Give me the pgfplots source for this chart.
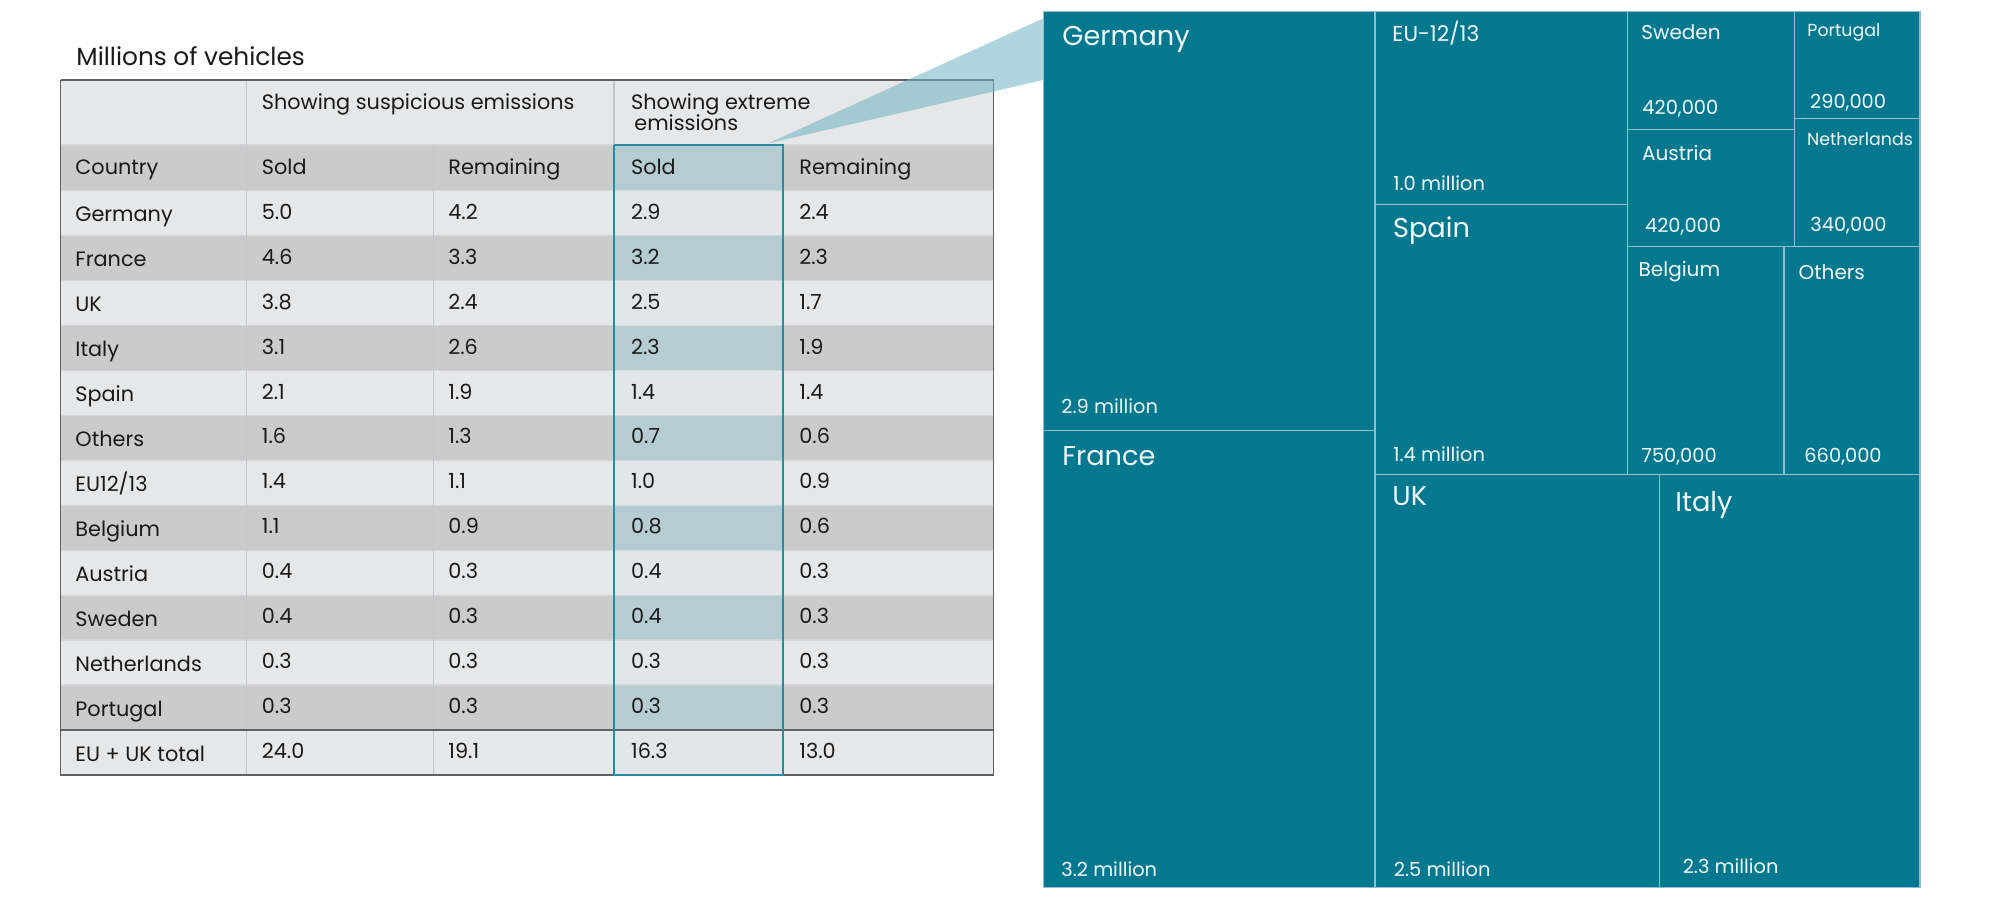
\documentclass[border=0pt]{standalone}
\usepackage{pgfplots}
\pgfplotsset{compat=1.18}
\usepackage{pgfplotstable}
\usepackage{fontspec}
\setmainfont{Poppins}
\definecolor{tealfill}{HTML}{03788F}
\definecolor{tealline}{HTML}{8EBFCB}
\definecolor{tealtext}{HTML}{F2F7F8}
\definecolor{rowlight}{HTML}{E6E7E8}
\definecolor{rowdark}{HTML}{CBCBCB}
\definecolor{hidark}{HTML}{B5CCD3}
\definecolor{hilight}{HTML}{E2E6E8}
\definecolor{gridc}{HTML}{D3D5D8}
\definecolor{colc}{HTML}{C4C8CC}
\definecolor{outer}{HTML}{5F6366}
\definecolor{hiborder}{HTML}{2A8BA0}
\definecolor{callout}{HTML}{6DB3C3}
\definecolor{txt}{HTML}{1A1A1A}
\newcommand{\tabfont}{\fontsize{10.4}{12.5}\selectfont}
\newcommand{\bigf}{\fontsize{13.6}{16}\selectfont}
\newcommand{\medf}{\fontsize{10}{12}\selectfont}
\newcommand{\euf}{\fontsize{10.8}{13}\selectfont}
\newcommand{\smallf}{\fontsize{8.7}{10.5}\selectfont}
\newcommand{\valf}{\fontsize{9.7}{11.5}\selectfont}
% rectangle helpers (axis units)
\newcommand{\tcell}[5]{\addplot[fill=#1, draw=none] coordinates {(#2,#3) (#4,#3) (#4,#5) (#2,#5) (#2,#3)};}
\newcommand{\hln}[5]{\addplot[draw=#1, line width=#2] coordinates {(#3,#5) (#4,#5)};}
\newcommand{\vln}[5]{\addplot[draw=#1, line width=#2] coordinates {(#3,#4) (#3,#5)};}
% table values (millions of vehicles); top = row top in picture units
\pgfplotstableread[col sep=comma]{
top,name,ss,sr,es,er
190.7,Germany,5.0,4.2,2.9,2.4
235.6,France,4.6,3.3,3.2,2.3
280.6,UK,3.8,2.4,2.5,1.7
325.5,Italy,3.1,2.6,2.3,1.9
370.5,Spain,2.1,1.9,1.4,1.4
415.4,Others,1.6,1.3,0.7,0.6
460.3,EU12/13,1.4,1.1,1.0,0.9
505.3,Belgium,1.1,0.9,0.8,0.6
550.2,Austria,0.4,0.3,0.4,0.3
595.2,Sweden,0.4,0.3,0.4,0.3
640.1,Netherlands,0.3,0.3,0.3,0.3
685.1,Portugal,0.3,0.3,0.3,0.3
730.0,EU + UK total,24.0,19.1,16.3,13.0
}\tabledata
% treemap rectangles: x0,y0,x1,y1 (extreme emissions, sold)
\pgfplotstableread[col sep=comma]{
name,x0,y0,x1,y1
Germany,1043.3,11.7,1375,430.7
France,1043.3,430.7,1375,887.7
EU-12/13,1375,11.7,1627.3,204.3
Spain,1375,204.3,1627.3,474.3
Sweden,1627.3,11.7,1794.3,129.3
Austria,1627.3,129.3,1794.3,246.7
Portugal,1794.3,11.7,1920,118.3
Netherlands,1794.3,118.3,1920,246.7
Belgium,1627.3,246.7,1784,474.3
Others,1784,246.7,1920,474.3
UK,1375,474.3,1659.4,887.7
Italy,1659.4,474.3,1920,887.7
}\treedata
\newcommand{\tree}[4]{\addplot[fill=tealfill, draw=tealline, line width=0.6pt] coordinates {(#1,#2) (#3,#2) (#3,#4) (#1,#4) (#1,#2)};}
\begin{document}
\begin{tikzpicture}
\begin{axis}[
  width=1000pt, height=450pt, scale only axis,
  xmin=0, xmax=2000, ymin=0, ymax=900, y dir=reverse,
  hide axis, clip=false,
  every axis plot/.append style={forget plot},
  tabtext/.style={draw=none, mark=none, nodes near coords, point meta=explicit symbolic,
    every node near coord/.append style={anchor=base west, inner sep=0pt, font=\tabfont, text=txt}},
]
% ---- table backgrounds
\tcell{rowlight}{60.7}{80}{993.3}{145}
\tcell{rowdark}{60.7}{145}{993.3}{190.7}
\tcell{rowlight}{60.7}{190.7}{993.3}{235.6}
\tcell{rowdark}{60.7}{235.6}{993.3}{280.6}
\tcell{rowlight}{60.7}{280.6}{993.3}{325.5}
\tcell{rowdark}{60.7}{325.5}{993.3}{370.5}
\tcell{rowlight}{60.7}{370.5}{993.3}{415.4}
\tcell{rowdark}{60.7}{415.4}{993.3}{460.3}
\tcell{rowlight}{60.7}{460.3}{993.3}{505.3}
\tcell{rowdark}{60.7}{505.3}{993.3}{550.2}
\tcell{rowlight}{60.7}{550.2}{993.3}{595.2}
\tcell{rowdark}{60.7}{595.2}{993.3}{640.1}
\tcell{rowlight}{60.7}{640.1}{993.3}{685.1}
\tcell{rowdark}{60.7}{685.1}{993.3}{730}
\tcell{rowlight}{60.7}{730}{993.3}{775}
% highlighted column
\tcell{hidark}{614}{145}{783.3}{190.7}
\tcell{hilight}{614}{190.7}{783.3}{235.6}
\tcell{hidark}{614}{235.6}{783.3}{280.6}
\tcell{hilight}{614}{280.6}{783.3}{325.5}
\tcell{hidark}{614}{325.5}{783.3}{370.5}
\tcell{hilight}{614}{370.5}{783.3}{415.4}
\tcell{hidark}{614}{415.4}{783.3}{460.3}
\tcell{hilight}{614}{460.3}{783.3}{505.3}
\tcell{hidark}{614}{505.3}{783.3}{550.2}
\tcell{hilight}{614}{550.2}{783.3}{595.2}
\tcell{hidark}{614}{595.2}{783.3}{640.1}
\tcell{hilight}{614}{640.1}{783.3}{685.1}
\tcell{hidark}{614}{685.1}{783.3}{730}
\tcell{hilight}{614}{730}{783.3}{775}
% ---- grid lines
\hln{gridc}{0.7pt}{60.7}{993.3}{145}
\hln{gridc}{0.7pt}{60.7}{993.3}{190.7}
\hln{gridc}{0.7pt}{60.7}{993.3}{235.6}
\hln{gridc}{0.7pt}{60.7}{993.3}{280.6}
\hln{gridc}{0.7pt}{60.7}{993.3}{325.5}
\hln{gridc}{0.7pt}{60.7}{993.3}{370.5}
\hln{gridc}{0.7pt}{60.7}{993.3}{415.4}
\hln{gridc}{0.7pt}{60.7}{993.3}{460.3}
\hln{gridc}{0.7pt}{60.7}{993.3}{505.3}
\hln{gridc}{0.7pt}{60.7}{993.3}{550.2}
\hln{gridc}{0.7pt}{60.7}{993.3}{595.2}
\hln{gridc}{0.7pt}{60.7}{993.3}{640.1}
\hln{gridc}{0.7pt}{60.7}{993.3}{685.1}
\vln{colc}{0.6pt}{246.7}{80}{775}
\vln{colc}{0.6pt}{433.7}{145}{775}
\vln{colc}{0.6pt}{614}{80}{145}
\vln{colc}{0.6pt}{783.3}{145}{775}
\hln{outer}{1.2pt}{60.7}{993.3}{730}
% outer border
\addplot[draw=outer, line width=0.75pt] coordinates {(60.7,80) (993.3,80) (993.3,775) (60.7,775) (60.7,80)};
% ---- table text
\node[anchor=base west, inner sep=0pt, font=\fontsize{12.4}{14.5}\selectfont, text=txt] at (axis cs:76,65) {Millions of vehicles};
\node[anchor=base west, inner sep=0pt, font=\tabfont, text=txt] at (axis cs:261.5,109) {Showing suspicious emissions};
\node[anchor=base west, inner sep=0pt, font=\tabfont, text=txt] at (axis cs:630.7,109) {Showing extreme};
\node[anchor=base west, inner sep=0pt, font=\tabfont, text=txt] at (axis cs:634,130.7) {emissions};
\node[anchor=base west, inner sep=0pt, font=\tabfont, text=txt] at (axis cs:75,174) {Country};
\node[anchor=base west, inner sep=0pt, font=\tabfont, text=txt] at (axis cs:261.5,174) {Sold};
\node[anchor=base west, inner sep=0pt, font=\tabfont, text=txt] at (axis cs:448,174) {Remaining};
\node[anchor=base west, inner sep=0pt, font=\tabfont, text=txt] at (axis cs:630.7,174) {Sold};
\node[anchor=base west, inner sep=0pt, font=\tabfont, text=txt] at (axis cs:799,174) {Remaining};
\addplot[tabtext] table[x expr=75, y expr=\thisrow{top}+31, meta=name] {\tabledata};
\addplot[tabtext] table[x expr=261.5, y expr=\thisrow{top}+28.5, meta=ss] {\tabledata};
\addplot[tabtext] table[x expr=448, y expr=\thisrow{top}+28.5, meta=sr] {\tabledata};
\addplot[tabtext] table[x expr=630.7, y expr=\thisrow{top}+28.5, meta=es] {\tabledata};
\addplot[tabtext] table[x expr=799, y expr=\thisrow{top}+28.5, meta=er] {\tabledata};
% ---- callout wedge
\addplot[fill=callout, fill opacity=0.55, draw=none] coordinates {(768.3,143.3) (1043.3,18.3) (1043.3,80) (768.3,143.3)};
% highlight column border
\addplot[draw=hiborder, line width=1pt] coordinates {(614,145) (783.3,145) (783.3,775) (614,775) (614,145)};
% ---- treemap
\pgfplotsinvokeforeach{0,...,11}{
  \pgfplotstablegetelem{#1}{x0}\of\treedata \let\ax\pgfplotsretval
  \pgfplotstablegetelem{#1}{y0}\of\treedata \let\ay\pgfplotsretval
  \pgfplotstablegetelem{#1}{x1}\of\treedata \let\bx\pgfplotsretval
  \pgfplotstablegetelem{#1}{y1}\of\treedata \let\by\pgfplotsretval
  \edef\temp{\noexpand\tree{\ax}{\ay}{\bx}{\by}}\temp
}
\tikzset{tl/.style={anchor=base west, inner sep=0pt, text=tealtext}}
\node[tl, font=\bigf] at (axis cs:1062,45) {Germany};
\node[tl, font=\valf] at (axis cs:1061,413) {2.9 million};
\node[tl, font=\bigf] at (axis cs:1062,465) {France};
\node[tl, font=\valf] at (axis cs:1061,876) {3.2 million};
\node[tl, font=\euf] at (axis cs:1392,41.7) {EU-12/13};
\node[tl, font=\valf] at (axis cs:1393,190.7) {1.0 million};
\node[tl, font=\bigf] at (axis cs:1392.7,237.3) {Spain};
\node[tl, font=\valf] at (axis cs:1393,461.7) {1.4 million};
\node[tl, font=\medf] at (axis cs:1641,39.3) {Sweden};
\node[tl, font=\valf] at (axis cs:1642,114.3) {420,000};
\node[tl, font=\smallf] at (axis cs:1807,36.7) {Portugal};
\node[tl, font=\valf] at (axis cs:1809.7,108.3) {290,000};
\node[tl, font=\smallf] at (axis cs:1806.7,145) {Netherlands};
\node[tl, font=\medf] at (axis cs:1641.7,160) {Austria};
\node[tl, font=\valf] at (axis cs:1644.7,232.7) {420,000};
\node[tl, font=\valf] at (axis cs:1810,231.7) {340,000};
\node[tl, font=\medf] at (axis cs:1638.3,276.7) {Belgium};
\node[tl, font=\medf] at (axis cs:1798.3,279.3) {Others};
\node[tl, font=\valf] at (axis cs:1641,462) {750,000};
\node[tl, font=\valf] at (axis cs:1804,462) {660,000};
\node[tl, font=\bigf] at (axis cs:1392,505) {UK};
\node[tl, font=\bigf] at (axis cs:1675,511) {Italy};
\node[tl, font=\valf] at (axis cs:1393.5,876) {2.5 million};
\node[tl, font=\valf] at (axis cs:1682.4,873) {2.3 million};
\end{axis}
\path (0,0) rectangle (1000pt,450pt);
\end{tikzpicture}
\end{document}
